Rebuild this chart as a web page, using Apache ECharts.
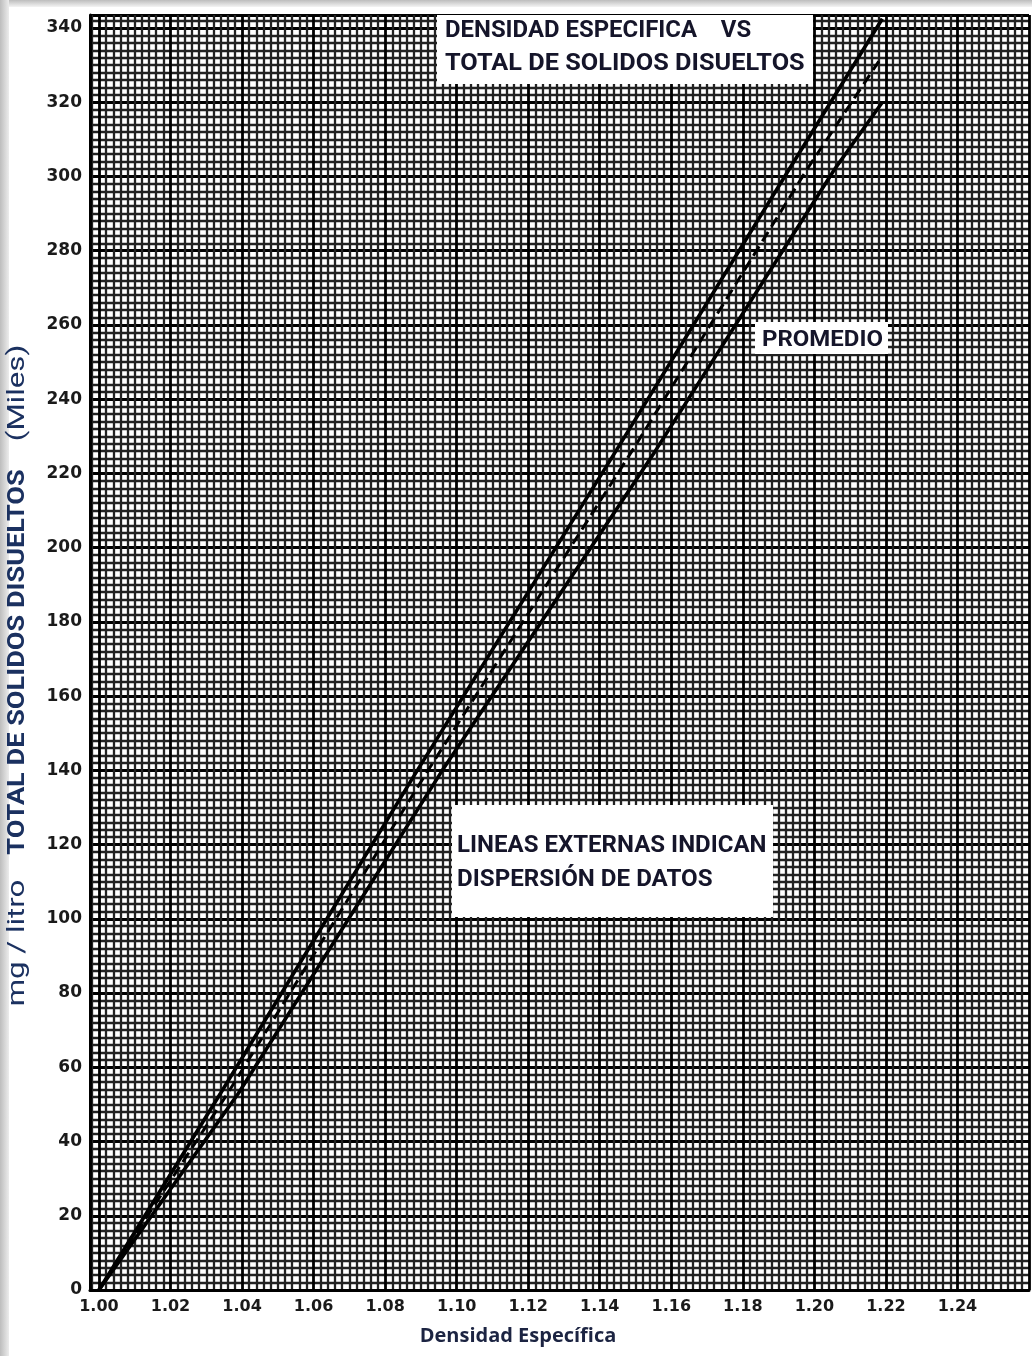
<!DOCTYPE html>
<html>
<head>
<meta charset="utf-8">
<script src="https://cdn.jsdelivr.net/npm/echarts@6/dist/echarts.min.js"></script>
<style>
html,body{margin:0;padding:0;background:#fff;}
#c{width:1032px;height:1356px;}
</style>
</head>
<body>
<div id="c"></div>
<script>
// ---- data ----
const xTicks = [1.00, 1.02, 1.04, 1.06, 1.08, 1.10, 1.12, 1.14, 1.16, 1.18, 1.20, 1.22, 1.24];
const xTickLabels = ['1.00', '1.02', '1.04', '1.06', '1.08', '1.10', '1.12', '1.14', '1.16', '1.18', '1.20', '1.22', '1.24'];
const yTicks = [0, 20, 40, 60, 80, 100, 120, 140, 160, 180, 200, 220, 240, 260, 280, 300, 320, 340];
// [densidad especifica, TDS (miles mg/l)]
const upperLine = [[1.000, 0], [1.034, 53], [1.089, 140], [1.1445, 226], [1.193, 302], [1.219, 342.5]];
const averageLine = [[1.000, 0], [1.036, 53], [1.092, 140], [1.149, 226], [1.198, 302], [1.218, 331]];
const lowerLine = [[1.000, 0], [1.039, 53], [1.096, 140], [1.1555, 226], [1.2057, 302], [1.219, 320]];

const titleLines = ['DENSIDAD ESPECIFICA    VS', 'TOTAL DE SOLIDOS DISUELTOS'];
const avgLabel = 'PROMEDIO';
const noteLines = ['LINEAS EXTERNAS INDICAN', 'DISPERSIÓN DE DATOS'];
const xName = 'Densidad Específica';
const yNameParts = ['mg / litro', 'TOTAL DE SOLIDOS DISUELTOS', '(Miles)'];

// ---- chart ----
function fmtFrom(ticks, labels) {
  return function (v) {
    for (let i = 0; i < ticks.length; i++) {
      if (Math.abs(v - ticks[i]) < 1e-6) return labels[i];
    }
    return '';
  };
}
const chart = echarts.init(document.getElementById('c'), null, {renderer: 'canvas'});
const annFont = "'Roboto', 'DejaVu Sans', sans-serif";
const annColor = '#15152a';
const yNameColor = '#1b3160';

function annText(x, y, text, size, sx) {
  return {type: 'text', z: 101, x: x, y: y, scaleX: sx, scaleY: 1,
    style: {text: text, font: 'bold ' + size + 'px ' + annFont, fill: annColor, textVerticalAlign: 'middle'}};
}
function yName(y, text, weight, sx) {
  return {type: 'text', z: 101, x: 18, y: y, rotation: Math.PI / 2, scaleX: sx, scaleY: 1,
    style: {text: text, font: weight + ' 24px ' + annFont, fill: yNameColor, textAlign: 'center', textVerticalAlign: 'middle'}};
}

const option = {
  animation: false,
  backgroundColor: '#ffffff',
  grid: {left: 90, right: 0, top: 15, bottom: 66, containLabel: false},
  xAxis: {
    type: 'value',
    min: 0.9975, max: 1.26,
    splitNumber: 13, minInterval: 0.02, maxInterval: 0.02,
    axisLine: {show: true, onZero: false, lineStyle: {color: '#000', width: 3}},
    axisTick: {show: false},
    minorTick: {show: false, splitNumber: 10},
    splitLine: {show: true, lineStyle: {color: '#000', width: 2.8}},
    minorSplitLine: {show: true, lineStyle: {color: '#222', width: 2.3}},
    axisLabel: {
      formatter: fmtFrom(xTicks, xTickLabels),
      color: '#1a1a1a', fontSize: 16, fontWeight: 'bold',
      fontFamily: "'DejaVu Sans', sans-serif", margin: 9,
      showMinLabel: true, showMaxLabel: true
    }
  },
  yAxis: {
    type: 'value',
    min: 0, max: 343.5,
    splitNumber: 17, minInterval: 20, maxInterval: 20,
    axisLine: {show: true, onZero: false, lineStyle: {color: '#000', width: 3}},
    axisTick: {show: false},
    minorTick: {show: false, splitNumber: 10},
    splitLine: {show: true, lineStyle: {color: '#000', width: 2.8}},
    minorSplitLine: {show: true, lineStyle: {color: '#222', width: 2.3}},
    axisLabel: {
      formatter: fmtFrom(yTicks, yTicks.map(String)),
      color: '#1a1a1a', fontSize: 17, fontWeight: 'bold',
      fontFamily: "'DejaVu Sans', sans-serif", margin: 8,
      showMinLabel: true, showMaxLabel: true
    }
  },
  series: [
    {type: 'line', name: 'max', data: upperLine, showSymbol: false, z: 5,
     lineStyle: {color: '#000', width: 3.6}},
    {type: 'line', name: 'promedio', data: averageLine, showSymbol: false, z: 5,
     lineStyle: {color: '#000', width: 3, type: [11, 6]}},
    {type: 'line', name: 'min', data: lowerLine, showSymbol: false, z: 5,
     lineStyle: {color: '#000', width: 3.6}}
  ],
  graphic: [
    // scanned page edge shading
    {type: 'rect', z: 100, shape: {x: 0, y: 0, width: 1032, height: 7},
     style: {fill: new echarts.graphic.LinearGradient(0, 0, 0, 1, [{offset: 0, color: '#bdbdbd'}, {offset: 1, color: '#f4f4f4'}])}},
    {type: 'rect', z: 100, shape: {x: 0, y: 0, width: 9, height: 1356},
     style: {fill: new echarts.graphic.LinearGradient(0, 0, 1, 0, [{offset: 0, color: '#bdbdbd'}, {offset: 1, color: '#ececec'}])}},
    // title box
    {type: 'rect', z: 100, shape: {x: 437, y: 15, width: 376, height: 69}, style: {fill: '#fff'}},
    annText(445, 31, titleLines[0], 23, 1.04),
    annText(445, 64, titleLines[1], 23, 1.10),
    // PROMEDIO
    {type: 'rect', z: 100, shape: {x: 755, y: 322, width: 133, height: 32}, style: {fill: '#fff'}},
    annText(762, 340, avgLabel, 22, 1.09),
    // note box
    {type: 'rect', z: 100, shape: {x: 452, y: 805, width: 321, height: 112}, style: {fill: '#fff'}},
    annText(457, 846, noteLines[0], 23, 1.045),
    annText(457, 880, noteLines[1], 23, 1.05),
    // axis names
    {type: 'text', z: 101, x: 518, y: 1336,
     style: {text: xName, font: "bold 20px 'Open Sans', sans-serif", fill: '#1c2442', textAlign: 'center', textVerticalAlign: 'middle'}},
    yName(943, yNameParts[0], 'normal', 1.3),
    yName(662, yNameParts[1], 'bold', 1.13),
    yName(393, yNameParts[2], 'normal', 1.3)
  ]
};
chart.setOption(option);
</script>
</body>
</html>
